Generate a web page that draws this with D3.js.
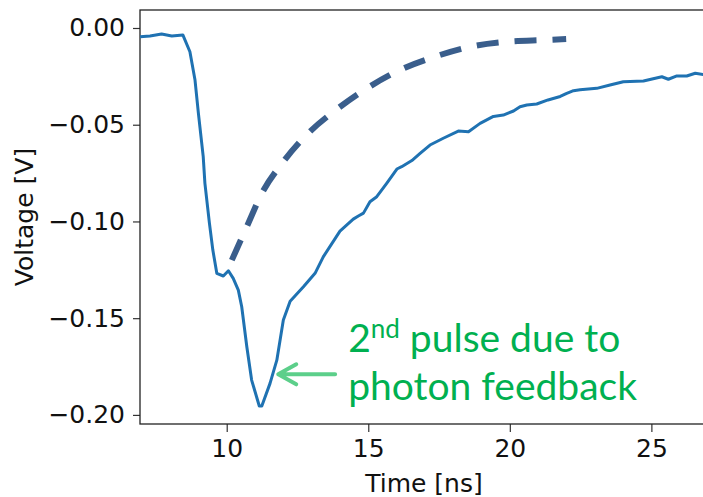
<!DOCTYPE html>
<html>
<head>
<meta charset="utf-8">
<script src="https://cdn.jsdelivr.net/npm/d3@7"></script>
<style>
  body { margin: 0; background: #fff; }
  svg { display: block; }
</style>
</head>
<body>
<div id="chart"></div>
<script>
const width = 703;
const height = 497;

// measured waveform (time in ns, voltage in V)
const pulseTime = [
  6.94, 7.29, 7.70, 8.06, 8.45, 8.70, 8.88, 9.00, 9.17, 9.23, 9.39, 9.51, 9.65, 9.88,
  10.06, 10.23, 10.41, 10.53, 10.71, 10.88, 11.15, 11.24, 11.53, 11.77, 12.00, 12.24,
  12.71, 13.12, 13.41, 14.00, 14.47, 14.65, 14.83, 15.06, 15.30, 15.65, 16.01, 16.18,
  16.54, 16.83, 17.18, 17.65, 18.18, 18.54, 18.95, 19.42, 19.77, 20.13, 20.36, 20.60,
  20.95, 21.35, 21.78, 22.01, 22.25, 22.48, 23.07, 23.54, 24.01, 24.72, 25.37, 25.60,
  25.90, 26.25, 26.55, 26.83
];
const pulseVolt = [
  -0.0045, -0.0041, -0.0031, -0.0041, -0.0036, -0.0123, -0.0269, -0.0441, -0.0665, -0.0803,
  -0.1010, -0.1148, -0.1268, -0.1282, -0.1255, -0.1294, -0.1355, -0.1441, -0.1648, -0.1820,
  -0.1954, -0.1954, -0.1837, -0.1717, -0.1510, -0.1412, -0.1338, -0.1268, -0.1183, -0.1050,
  -0.0988, -0.0972, -0.0957, -0.0898, -0.0872, -0.0803, -0.0729, -0.0717, -0.0685, -0.0648,
  -0.0605, -0.0570, -0.0533, -0.0536, -0.0493, -0.0457, -0.0450, -0.0429, -0.0407, -0.0398,
  -0.0393, -0.0372, -0.0354, -0.0338, -0.0324, -0.0319, -0.0312, -0.0295, -0.0278, -0.0274,
  -0.0252, -0.0265, -0.0248, -0.0248, -0.0234, -0.0241
];

// expected single-pulse decay (dashed)
const fitTime = [10.18, 10.71, 11.24, 12.00, 12.88, 13.89, 14.95, 16.12, 17.36, 18.60, 19.89, 21.25, 21.99];
const fitVolt = [-0.1200, -0.1027, -0.0855, -0.0691, -0.0544, -0.0420, -0.0312, -0.0217, -0.0148, -0.0097, -0.0071, -0.0062, -0.0057];

const xTicks = [10, 15, 20, 25];
const yTicks = [0, -0.05, -0.1, -0.15, -0.2];

const xLabel = "Time [ns]";
const yLabel = "Voltage [V]";
const noteLines = ["pulse due to", "photon feedback"];

const pulseData = pulseTime.map((t, i) => ({ t, v: pulseVolt[i] }));
const fitData = fitTime.map((t, i) => ({ t, v: fitVolt[i] }));

const plot = { left: 140, right: 708, top: 10, bottom: 424 };

const svg = d3
  .select("#chart")
  .append("svg")
  .attr("width", width)
  .attr("height", height);

const xScale = d3.scaleLinear().domain([6.937, 27.0]).range([plot.left, plot.right]);
const yScale = d3.scaleLinear().domain([-0.2047, 0.0093]).range([plot.bottom, plot.top]);

const axisFont = "'DejaVu Sans', sans-serif";

// axes
const xAxis = d3.axisBottom(xScale).tickValues(xTicks).tickSize(8).tickPadding(7).tickFormat(d3.format("d"));
const yAxis = d3.axisLeft(yScale).tickValues(yTicks).tickSize(7).tickPadding(8).tickFormat(d3.format(".2f"));

const gx = svg
  .append("g")
  .attr("transform", `translate(0, ${plot.bottom})`)
  .call(xAxis);

const gy = svg
  .append("g")
  .attr("transform", `translate(${plot.left}, 0)`)
  .call(yAxis);

[gx, gy].forEach((g) => {
  g.select(".domain").remove();
  g.selectAll(".tick line").attr("stroke", "#333").attr("stroke-width", 1.2);
  g.selectAll(".tick text")
    .attr("fill", "#111")
    .style("font-family", axisFont)
    .style("font-size", "25px");
});

// frame
svg
  .append("rect")
  .attr("x", plot.left)
  .attr("y", plot.top)
  .attr("width", plot.right - plot.left)
  .attr("height", plot.bottom - plot.top)
  .attr("fill", "none")
  .attr("stroke", "#222")
  .attr("stroke-width", 1.3);

// axis labels
svg
  .append("text")
  .attr("x", (plot.left + plot.right) / 2)
  .attr("y", 492)
  .attr("text-anchor", "middle")
  .attr("fill", "#111")
  .style("font-family", axisFont)
  .style("font-size", "25px")
  .text(xLabel);

svg
  .append("text")
  .attr("transform", `translate(33, ${(plot.top + plot.bottom) / 2}) rotate(-90)`)
  .attr("text-anchor", "middle")
  .attr("fill", "#111")
  .style("font-family", axisFont)
  .style("font-size", "25px")
  .text(yLabel);

// lines
const line = d3
  .line()
  .x((d) => xScale(d.t))
  .y((d) => yScale(d.v));

svg
  .append("path")
  .datum(fitData)
  .attr("fill", "none")
  .attr("stroke", "#3a5e8c")
  .attr("stroke-width", 6)
  .attr("stroke-dasharray", "22,16")
  .attr("d", line.curve(d3.curveMonotoneX));

svg
  .append("path")
  .datum(pulseData)
  .attr("fill", "none")
  .attr("stroke", "#1f72b2")
  .attr("stroke-width", 3)
  .attr("stroke-linejoin", "round")
  .attr("d", line.curve(d3.curveLinear));

// arrow annotation
const tip = [xScale(11.82), yScale(-0.179)];
const tail = [xScale(13.83), yScale(-0.179)];
svg
  .append("path")
  .attr("d", `M${tail[0]},${tail[1]}L${tip[0] + 2},${tip[1]}M${tip[0] + 18},${tip[1] - 10}L${tip[0]},${tip[1]}L${tip[0] + 18},${tip[1] + 10}`)
  .attr("fill", "none")
  .attr("stroke", "#5ccf8a")
  .attr("stroke-width", 4)
  .attr("stroke-linecap", "round")
  .attr("stroke-linejoin", "round");

// note text
const noteX = xScale(14.29);
const note = svg
  .append("g")
  .attr("fill", "#00b050")
  .style("font-family", "Lato, 'Open Sans', sans-serif")
  .style("font-size", "39px");

const first = note.append("text").attr("x", noteX).attr("y", yScale(-0.1673));
first.append("tspan").text("2");
first.append("tspan").attr("dy", -14).style("font-size", "26px").text("nd");
first.append("tspan").attr("dy", 14).text(" " + noteLines[0]);

note
  .append("text")
  .attr("x", noteX)
  .attr("y", yScale(-0.1922))
  .text(noteLines[1]);
</script>
</body>
</html>
